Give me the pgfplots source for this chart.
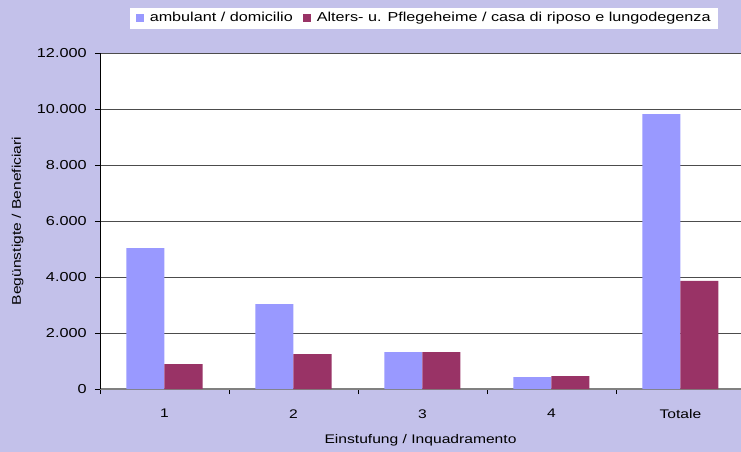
\documentclass[border=0pt]{standalone}
\usepackage{pgfplots}
\pgfplotsset{compat=1.18}
\usepackage{fontspec}
\setmainfont{Liberation Sans}[FakeStretch=1.25]
\definecolor{bgc}{RGB}{195,193,234}
\definecolor{blueb}{RGB}{153,153,255}
\definecolor{maroonb}{RGB}{153,51,102}
\begin{document}
\fontsize{12.5pt}{15pt}\selectfont
\begin{tikzpicture}[x=1pt,y=1pt]
\fill[bgc] (0,0) rectangle (741,452);
\useasboundingbox (0,0) rectangle (741,452);
\begin{axis}[
  at={(100pt,63pt)}, anchor=south west,
  scale only axis, width=641pt, height=336pt,
  xmin=-0.5, xmax=4.47, ymin=0, ymax=12000,
  axis x line*=bottom, axis y line*=left,
  x axis line style={draw=black!50, line width=1.5pt},
  y axis line style={draw=black, line width=0.8pt},
  axis background/.style={fill=white},
  scaled y ticks=false,
  ytick={0,2000,4000,6000,8000,10000,12000},
  yticklabels={0,2.000,4.000,6.000,8.000,10.000,12.000},
  ymajorgrids, major grid style={draw=black!70, line width=0.8pt},
  xtick={0,1,2,3,4}, xticklabels={1,2,3,4,Totale},
  minor xtick={-0.5,0.5,1.5,2.5,3.5},
  tick align=outside,
  major tick length=5pt, minor tick length=5pt,
  tick style={black, line width=0.8pt},
  major x tick style={draw=none},
  xticklabel style={yshift=-11pt, font=\fontsize{12.5pt}{15pt}\selectfont},
  yticklabel style={xshift=-4pt, font=\fontsize{13pt}{15pt}\selectfont},
  ylabel={Begünstigte / Beneficiari}, xlabel={Einstufung / Inquadramento},
  ylabel style={yshift=5pt},
  xlabel style={yshift=-7pt},
  ybar, bar width=0.295,
  legend columns=2,
  legend style={at={(0.505,1)}, anchor=south, yshift=24pt, draw=none, fill=white,
    font=\fontsize{12.95pt}{15pt}\selectfont,
    inner xsep=6pt, inner ysep=4pt, nodes={inner sep=1pt}, column sep=5pt,
    /tikz/every even column/.append style={column sep=9pt}},
  legend image code/.code={\fill[#1] (0pt,-4pt) rectangle (8pt,4pt);},
]
\addplot[fill=blueb, draw=none, bar shift=-0.1475] coordinates {(0,5030) (1,3030) (2,1320) (3,425) (4,9820)};
\addplot[fill=maroonb, draw=none, bar shift=0.1475] coordinates {(0,890) (1,1245) (2,1320) (3,460) (4,3860)};
\legend{ambulant / domicilio, Alters- u. Pflegeheime / casa di riposo e lungodegenza}
\end{axis}
\end{tikzpicture}
\end{document}
